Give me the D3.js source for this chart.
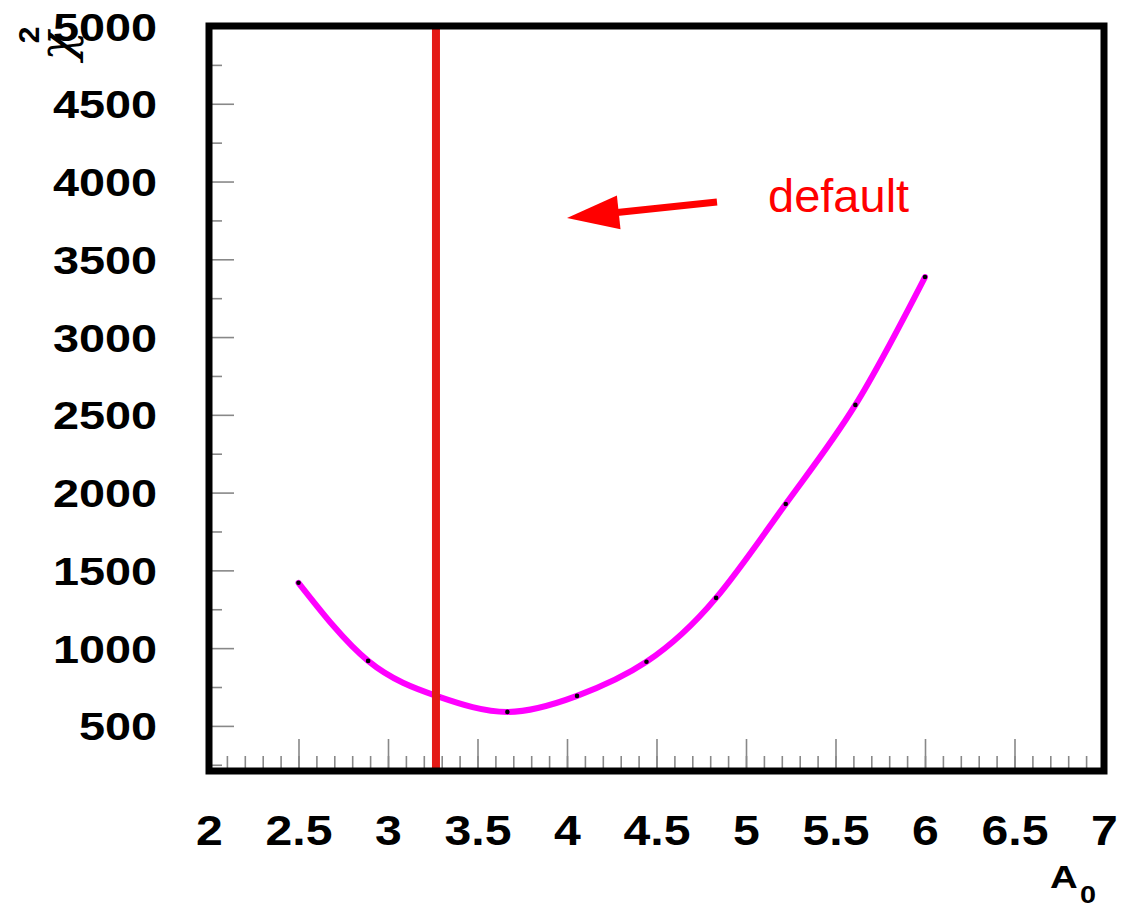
<!DOCTYPE html>
<html>
<head>
<meta charset="utf-8">
<script src="https://cdn.jsdelivr.net/npm/d3@7"></script>
<style>
	body { margin: 0; background: white; }
	svg { display: block; }
	.tick_label { font-family: 'Liberation Sans', Arial, sans-serif; font-weight: bold; fill: black; }
</style>
</head>
<body>
<div id="chart"></div>
<script>
// scan points (A0, chi2)
var a0_values = [2.5, 2.889, 3.278, 3.667, 4.056, 4.444, 4.833, 5.222, 5.611, 6.0];
var chi2_values = [1420, 918, 690, 590, 693, 912, 1323, 1927, 2564, 3386];

// axis ticks
var x_ticks = [2, 2.5, 3, 3.5, 4, 4.5, 5, 5.5, 6, 6.5, 7];
var y_ticks = [500, 1000, 1500, 2000, 2500, 3000, 3500, 4000, 4500, 5000];
var y_minor_ticks = [250, 750, 1250, 1750, 2250, 2750, 3250, 3750, 4250, 4750];

// default value marker and annotation
var default_a0 = 3.268;
var arrow_from = [4.838, 3869];
var arrow_to = [4.0, 3766];
var note_pos = [5.123, 3804];
var note_text = 'default';


/**
 * Draws the chi2 scan chart
 * @return {void} Nothing
 */
function create_chart() {
	var W = 1126;
	var H = 906;
	var margin = {top: 26, right: 22, bottom: 135, left: 209};

	var svg = d3.select('#chart')
		.append('svg')
		.attr('width', W)
		.attr('height', H);

	svg.append('rect')
		.attr('width', W)
		.attr('height', H)
		.style('fill', 'white');

	var x = d3.scaleLinear()
		.domain([2, 7])
		.range([margin.left, W - margin.right]);

	var y = d3.scaleLinear()
		.domain([210, 5000])
		.range([H - margin.bottom, margin.top]);

	var x_stretch = 1.12;
	var y_stretch = 1.2;

	// x minor ticks
	svg.append('g')
		.attr('transform', 'translate(0,' + y.range()[0] + ')')
		.call(d3.axisBottom(x).ticks(50).tickSize(-15).tickFormat(''))
		.call(g => g.select('.domain').remove())
		.call(g => g.selectAll('line').style('stroke', '#888').style('stroke-width', 1.6));

	// x major ticks
	var x_axis = svg.append('g')
		.attr('transform', 'translate(0,' + y.range()[0] + ')')
		.call(d3.axisBottom(x).tickValues(x_ticks).tickSize(-32).tickFormat(d => String(d)))
		.call(g => g.select('.domain').remove())
		.call(g => g.selectAll('line').style('stroke', '#888').style('stroke-width', 1.6));
	x_axis.selectAll('text')
		.attr('class', 'tick_label')
		.attr('y', 74)
		.attr('dy', 0)
		.attr('transform', 'scale(' + x_stretch + ',1)')
		.style('font-size', '43px');

	// y minor ticks
	svg.append('g')
		.attr('transform', 'translate(' + x.range()[0] + ',0)')
		.call(d3.axisLeft(y).tickValues(y_minor_ticks).tickSize(-13).tickFormat(''))
		.call(g => g.select('.domain').remove())
		.call(g => g.selectAll('line').style('stroke', '#888').style('stroke-width', 1.6));

	// y major ticks
	var y_axis = svg.append('g')
		.attr('transform', 'translate(' + x.range()[0] + ',0)')
		.call(d3.axisLeft(y).tickValues(y_ticks).tickSize(-25).tickFormat(d => String(d)))
		.call(g => g.select('.domain').remove())
		.call(g => g.selectAll('line').style('stroke', '#888').style('stroke-width', 1.6));
	y_axis.selectAll('text')
		.attr('class', 'tick_label')
		.attr('text-anchor', 'end')
		.attr('x', -52 / y_stretch)
		.attr('dy', '0.36em')
		.attr('transform', 'scale(' + y_stretch + ',1)')
		.style('font-size', '39px');

	// scan curve
	var pts = a0_values.map((d, i) => [d, chi2_values[i]]);
	svg.append('path')
		.datum(pts)
		.attr('d', d3.line()
			.x(d => x(d[0]))
			.y(d => y(d[1]))
			.curve(d3.curveNatural))
		.style('fill', 'none')
		.style('stroke', '#ff00ff')
		.style('stroke-width', 6)
		.style('stroke-linecap', 'round');

	svg.append('g')
		.selectAll('circle')
		.data(pts)
		.enter()
		.append('circle')
			.attr('cx', d => x(d[0]))
			.attr('cy', d => y(d[1]))
			.attr('r', 2.3)
			.style('fill', 'black');

	// default value line
	svg.append('line')
		.attr('x1', x(default_a0))
		.attr('x2', x(default_a0))
		.attr('y1', y.range()[1])
		.attr('y2', y.range()[0])
		.style('stroke', '#e41a16')
		.style('stroke-width', 8);

	// frame
	svg.append('rect')
		.attr('x', x.range()[0])
		.attr('y', y.range()[1])
		.attr('width', x.range()[1] - x.range()[0])
		.attr('height', y.range()[0] - y.range()[1])
		.style('fill', 'none')
		.style('stroke', 'black')
		.style('stroke-width', 7);

	// arrow
	var x1 = x(arrow_from[0]), y1 = y(arrow_from[1]);
	var x2 = x(arrow_to[0]), y2 = y(arrow_to[1]);
	var ang = Math.atan2(y2 - y1, x2 - x1);
	var head_len = 52, head_w = 17;
	var bx = x2 - head_len * Math.cos(ang), by = y2 - head_len * Math.sin(ang);
	svg.append('line')
		.attr('x1', x1)
		.attr('y1', y1)
		.attr('x2', bx + 4 * Math.cos(ang))
		.attr('y2', by + 4 * Math.sin(ang))
		.style('stroke', '#ff0000')
		.style('stroke-width', 7);
	svg.append('polygon')
		.attr('points', [
			[x2, y2],
			[bx - head_w * Math.sin(ang), by + head_w * Math.cos(ang)],
			[bx + head_w * Math.sin(ang), by - head_w * Math.cos(ang)]
		].map(p => p.join(',')).join(' '))
		.style('fill', '#ff0000');

	svg.append('text')
		.attr('x', x(note_pos[0]))
		.attr('y', y(note_pos[1]))
		.text(note_text)
		.style('font-family', "'Liberation Sans', Arial, sans-serif")
		.style('font-size', '47px')
		.style('fill', '#ff0000');

	// axis titles
	svg.append('text')
		.attr('transform', 'translate(56,46) rotate(-90)')
		.attr('text-anchor', 'middle')
		.attr('dominant-baseline', 'central')
		.text('χ')
		.style('font-family', "'DejaVu Serif', serif")
		.style('font-style', 'italic')
		.style('font-size', '48px');
	svg.append('text')
		.attr('transform', 'translate(28,35) rotate(-90)')
		.attr('text-anchor', 'middle')
		.attr('dominant-baseline', 'central')
		.text('2')
		.style('font-family', "'Liberation Sans', Arial, sans-serif")
		.style('font-weight', 'bold')
		.style('font-size', '30px');

	svg.append('text')
		.attr('class', 'tick_label')
		.attr('transform', 'translate(1050,888) scale(1.2,1)')
		.text('A')
		.style('font-size', '32px');
	svg.append('text')
		.attr('class', 'tick_label')
		.attr('transform', 'translate(1080,903) scale(1.2,1)')
		.text('0')
		.style('font-size', '24px');
}


create_chart();
</script>
</body>
</html>
